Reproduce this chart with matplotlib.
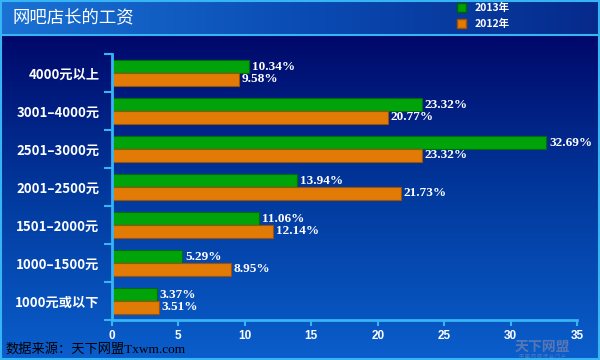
import matplotlib.pyplot as plt
import numpy as np
from matplotlib.colors import LinearSegmentedColormap
from matplotlib.patches import Rectangle

plt.rcParams['font.family'] = ['Noto Sans CJK SC', 'DejaVu Sans']

# data, top row first
categories = ["4000元以上", "3001–4000元", "2501–3000元", "2001–2500元",
              "1501–2000元", "1000–1500元", "1000元或以下"]
share_2013 = [10.34, 23.32, 32.69, 13.94, 11.06, 5.29, 3.37]
share_2012 = [9.58, 20.77, 23.32, 21.73, 12.14, 8.95, 3.51]
x_ticks = [0, 5, 10, 15, 20, 25, 30, 35]

fig = plt.figure(figsize=(6, 3.6), dpi=100)

# background: body gradient (dark navy top -> brighter blue bottom)
bg = fig.add_axes([0, 0, 1, 1], zorder=-10)
bg.set_axis_off()
body = LinearSegmentedColormap.from_list("body", ["#00086a", "#023a9e", "#0a5ecc"])
grad = np.linspace(0, 1, 256).reshape(-1, 1)
bg.imshow(grad, cmap=body, aspect="auto", extent=[0, 1, 0, 1 - 35 / 360],
          origin="upper")
# title bar gradient (lighter left -> darker right)
bar_cm = LinearSegmentedColormap.from_list("bar", ["#1a72d4", "#0a4cb4", "#062a8c"])
bg.imshow(np.linspace(0, 1, 256).reshape(1, -1), cmap=bar_cm, aspect="auto",
          extent=[0, 1, 1 - 34 / 360, 1])
bg.set_xlim(0, 1)
bg.set_ylim(0, 1)
bg.axhline(1 - 34.5 / 360, color="#36b4f4", lw=1.5)
bg.add_patch(Rectangle((0.002, 0.003), 0.996, 0.994, fill=False,
                       ec="#36b4f4", lw=1.5))

fig.text(0.02, 1 - 17 / 360, "网吧店长的工资", color="white", fontsize=12.5,
         va="center", ha="left")

# legend squares
fig.patches.append(Rectangle((457 / 600, 1 - 12 / 360), 9 / 600, 9 / 360,
                             transform=fig.transFigure, fc="#00a000", ec="#006000"))
fig.patches.append(Rectangle((457 / 600, 1 - 28 / 360), 9 / 600, 9 / 360,
                             transform=fig.transFigure, fc="#e47a00", ec="#a05000"))
fig.text(475 / 600, 1 - 8 / 360, "2013年", color="white", fontsize=7.5,
         fontweight="bold", va="center")
fig.text(475 / 600, 1 - 24 / 360, "2012年", color="white", fontsize=7.5,
         fontweight="bold", va="center")

ax = fig.add_axes([112 / 600, 1 - 320 / 360, 465 / 600, 266 / 360])
ax.patch.set_alpha(0)

y = np.arange(len(categories))
h = 0.33
ax.barh(y - h / 2, share_2013, height=h, color="#00a30a", edgecolor="#006a10",
        linewidth=0.8)
ax.barh(y + h / 2, share_2012, height=h, color="#e27a06", edgecolor="#9a5208",
        linewidth=0.8)

for i in range(len(categories)):
    ax.text(share_2013[i] + 0.2, y[i] - h / 2, f"{share_2013[i]:.2f}%",
            color="white", fontsize=9.5, fontweight="bold", va="center",
            family="Liberation Serif")
    ax.text(share_2012[i] + 0.2, y[i] + h / 2, f"{share_2012[i]:.2f}%",
            color="white", fontsize=9.5, fontweight="bold", va="center",
            family="Liberation Serif")

ax.set_xlim(0, 35)
ax.set_ylim(len(categories) - 0.5, -0.5)
ax.set_xticks(x_ticks)
ax.set_xticklabels([str(t) for t in x_ticks], color="white", fontsize=8.5,
                   fontweight="bold", family="Liberation Sans")
ax.set_yticks(y)
ax.set_yticklabels(categories, color="white", fontsize=9.5, fontweight="bold")
ax.set_yticks(np.arange(-0.5, len(categories)), minor=True)
ax.tick_params(axis="y", which="major", length=0, pad=9)
ax.tick_params(axis="y", which="minor", length=6, width=1.5, color="#36b4f4")
ax.tick_params(axis="x", length=4, width=1.5, color="#36b4f4", pad=3)
for s in ["top", "right"]:
    ax.spines[s].set_visible(False)
for s in ["left", "bottom"]:
    ax.spines[s].set_color("#36b4f4")
    ax.spines[s].set_linewidth(2)

# source note and watermark
fig.text(5 / 600, 1 - 349 / 360, "数据来源：天下网盟Txwm.com", color="black",
         fontsize=9.5, va="center", family=["Liberation Serif", "Noto Sans CJK SC"])
fig.text(542 / 600, 1 - 347 / 360, "天下网盟", color="#8a8aa8", alpha=0.6,
         fontsize=10, fontweight="bold", va="center", ha="center")
fig.text(542 / 600, 1 - 356.5 / 360, "中 国 网 吧 行 业 门 户", color="#8a8aa8",
         alpha=0.6, fontsize=3.5, va="center", ha="center")

fig.savefig("out.png", dpi=100)
